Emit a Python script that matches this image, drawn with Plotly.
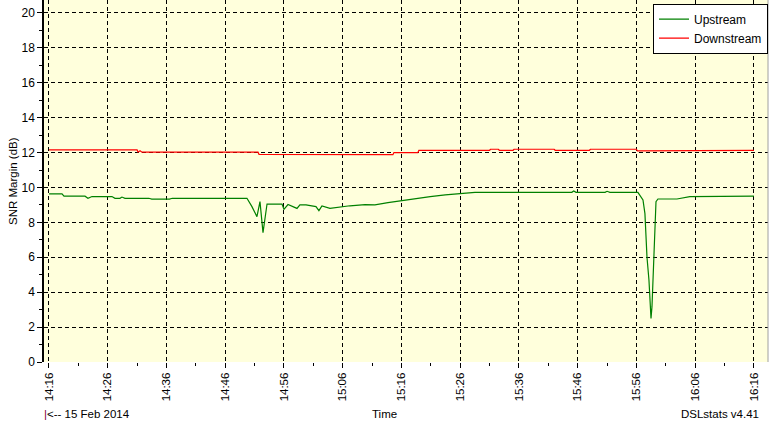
import plotly.graph_objects as go

DAY = "2014-02-15 "

up_times = ["14:16:00", "14:18:13", "14:18:33", "14:22:08", "14:22:38", "14:23:19", "14:26:43",
            "14:27:14", "14:28:05", "14:28:25", "14:28:56", "14:33:00", "14:33:30", "14:36:30",
            "14:37:00", "14:41:42", "14:49:42", "14:50:33", "14:51:24", "14:51:55", "14:52:26",
            "14:53:07", "14:55:40", "14:56:00", "14:56:41", "14:58:13", "14:58:43", "14:59:45",
            "15:01:27", "15:01:57", "15:02:28", "15:03:50", "15:05:11", "15:07:14", "15:09:48",
            "15:11:29", "15:13:42", "15:14:54", "15:17:27", "15:19:09", "15:20:54", "15:23:27",
            "15:26:00", "15:28:31", "15:45:00", "15:45:20", "15:45:43", "15:50:40", "15:51:00",
            "15:51:29", "15:56:15", "15:57:07", "15:57:27", "15:57:48", "15:58:08", "15:58:18",
            "15:58:29", "15:58:39", "15:58:49", "15:59:00", "15:59:10", "15:59:20", "15:59:40",
            "16:02:54", "16:05:06", "16:16:00"]
up_vals = [9.63, 9.63, 9.50, 9.50, 9.38, 9.48, 9.48,
           9.38, 9.38, 9.45, 9.38, 9.38, 9.33, 9.33,
           9.38, 9.38, 9.38, 8.90, 8.33, 9.19, 7.41,
           9.05, 9.05, 8.75, 9.02, 8.80, 9.00, 9.00,
           8.90, 8.67, 8.94, 8.80, 8.86, 8.95, 9.02,
           9.00, 9.13, 9.19, 9.28, 9.38, 9.47, 9.57,
           9.63, 9.72, 9.72, 9.80, 9.72, 9.72, 9.78,
           9.72, 9.72, 9.28, 8.50, 6.00, 4.70, 3.27,
           2.50, 3.17, 4.70, 6.00, 7.96, 9.19, 9.34,
           9.34, 9.47, 9.50]

down_times = ["14:16:00", "14:31:00", "14:31:10", "14:31:30", "14:31:50", "14:47:00", "14:51:35",
              "14:51:45", "14:57:22", "14:57:32", "15:14:33", "15:14:43", "15:18:48", "15:18:58",
              "15:31:00", "15:31:10", "15:32:30", "15:32:40", "15:35:00", "15:35:10", "15:42:00",
              "15:42:10", "15:48:00", "15:48:10", "15:56:00", "15:56:10", "16:00:00", "16:00:10",
              "16:16:00"]
down_vals = [12.15, 12.15, 12.02, 12.10, 12.02, 12.02, 12.02,
             11.90, 11.90, 11.88, 11.88, 12.00, 12.00, 12.13,
             12.13, 12.19, 12.19, 12.13, 12.13, 12.19, 12.19,
             12.13, 12.13, 12.19, 12.19, 12.10, 12.10, 12.13,
             12.13]

x_range = ["14:15:09", "16:18:24"]
y_range = [0, 20.74]

fig = go.Figure()
fig.add_trace(go.Scatter(x=[DAY + t for t in up_times], y=up_vals, mode="lines",
                         name="Upstream", line=dict(color="#008000", width=1.2)))
fig.add_trace(go.Scatter(x=[DAY + t for t in down_times], y=down_vals, mode="lines",
                         name="Downstream", line=dict(color="#FF0000", width=1.2)))

FAM = "Liberation Sans"
font = dict(family=FAM, size=11.5, color="black")
DASH = "4px,3px"

fig.update_layout(
    width=770, height=428,
    margin=dict(l=44, r=2, t=0, b=66, autoexpand=False),
    paper_bgcolor="white", plot_bgcolor="#FFFFDC",
    font=font,
    showlegend=True,
    legend=dict(x=1.0, y=0.99, xanchor="right", yanchor="top",
                bgcolor="white", bordercolor="black", borderwidth=1,
                font=dict(family=FAM, size=12, color="black"),
                tracegroupgap=0),
    xaxis=dict(type="date", range=[DAY + x_range[0], DAY + x_range[1]], automargin=False,
               tick0=DAY + "14:16:00", dtick=600000, tickformat="%H:%M", tickangle=-90,
               ticks="outside", ticklen=5, tickcolor="black",
               showgrid=True, gridcolor="black", griddash=DASH, gridwidth=1,
               showline=False, zeroline=False,
               minor=dict(dtick=300000, tick0=DAY + "14:16:00", ticks="outside", ticklen=3,
                          tickcolor="black", showgrid=False)),
    yaxis=dict(range=y_range, tick0=0, dtick=2, ticks="outside", ticklen=5, tickcolor="black",
               automargin=False, tickfont=dict(family=FAM, size=12, color="black"),
               showgrid=True, gridcolor="black", griddash=DASH, gridwidth=1,
               showline=True, linecolor="black", linewidth=1.5, mirror=False, zeroline=False,
               minor=dict(dtick=1, ticks="outside", ticklen=3, tickcolor="black", showgrid=False)),
    shapes=[dict(type="line", xref="paper", yref="paper", x0=1, x1=1, y0=0, y1=1,
                 line=dict(color="#A0A0A0", width=1))],
    annotations=[
        dict(text="SNR Margin (dB)", xref="paper", yref="paper", x=-0.0428, y=0.5,
             xanchor="center", yanchor="middle", textangle=-90, showarrow=False, font=font),
        dict(text="<span style='color:#800040'>|</span><-- 15 Feb 2014", xref="paper", yref="paper",
             x=0, y=-0.144, xanchor="left", yanchor="middle", showarrow=False, font=font, xshift=-2),
        dict(text="Time", xref="paper", yref="paper", x=0.47, y=-0.144,
             xanchor="center", yanchor="middle", showarrow=False, font=font),
        dict(text="DSLstats v4.41", xref="paper", yref="paper", x=0.99, y=-0.144,
             xanchor="right", yanchor="middle", showarrow=False, font=font),
    ],
)

fig.write_html("out.html", config={"displayModeBar": False},
               post_script="document.body.style.margin='0';document.body.style.overflow='hidden';")
